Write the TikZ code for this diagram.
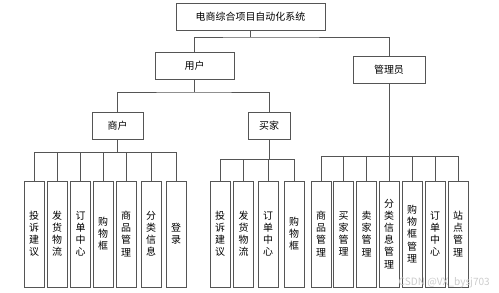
\documentclass[tikz,border=0pt]{standalone}
\usepackage{fontspec}
\setmainfont{Noto Sans CJK SC}
\usepackage{xcolor}
\usetikzlibrary{positioning}
\definecolor{linegray}{RGB}{85, 85, 85}

\begin{document}
\begin{tikzpicture}[x=0.03cm, y=-0.03cm,
  headbox/.style={draw=linegray, line width=0.5pt, fill=white, minimum height=0.81cm, inner sep=0pt, font=\fontsize{8.5}{10.3}\selectfont},
  leafbox/.style={draw=linegray, line width=0.5pt, fill=white, minimum width=0.6cm, minimum height=3.18cm, inner sep=0pt, align=center, font=\fontsize{8.5}{10.3}\selectfont},
  link/.style={draw=linegray, line width=0.5pt},
]
  \useasboundingbox (0,0) rectangle (499,293);

  % Top levels
  \node[headbox, minimum width=4.47cm] (sys) at (250.5,17) {电商综合项目自动化系统};
  \node[headbox, minimum width=2.37cm] (user) at (194.5,65.5) {用户};
  \node[headbox, minimum width=2.16cm] (admin) at (389,69.5) {管理员};
  \node[headbox, minimum width=1.53cm] (merch) at (117.5,125.5) {商户};
  \node[headbox, minimum width=1.26cm] (buyer) at (269,125.5) {买家};

  % Bus points
  \coordinate (topbus) at (250.5,37);
  \coordinate (userbus) at (194.5,92);
  \coordinate (mbus) at (117.5,152);
  \coordinate (bbus) at (269,159);
  \coordinate (abus) at (389,156);

  % Upper connectors
  \draw[link] (sys.south) -- (topbus);
  \draw[link] (user.north) |- (topbus) -| (admin.north);
  \draw[link] (user.south) -- (userbus);
  \draw[link] (merch.north) |- (userbus) -| (buyer.north);

  % Merchant leaves
  \node[leafbox] (m1) at (34,234) {投\\诉\\建\\议};
  \node[leafbox] (m2) at (57,234) {发\\货\\物\\流};
  \node[leafbox] (m3) at (80.5,234) {订\\单\\中\\心};
  \node[leafbox] (m4) at (103,234) {购\\物\\框};
  \node[leafbox] (m5) at (126,234) {商\\品\\管\\理};
  \node[leafbox] (m6) at (151,234) {分\\类\\信\\息};
  \node[leafbox] (m7) at (176,234) {登\\录};
  \draw[link] (merch.south) -- (mbus);
  \foreach \nm in {m1,m2,m3,m4,m5,m6,m7} {
    \draw[link] (\nm.north) |- (mbus);
  }

  % Buyer leaves
  \node[leafbox] (b1) at (220,234) {投\\诉\\建\\议};
  \node[leafbox] (b2) at (243.5,234) {发\\货\\物\\流};
  \node[leafbox] (b3) at (268,234) {订\\单\\中\\心};
  \node[leafbox] (b4) at (294,234) {购\\物\\框};
  \draw[link] (buyer.south) -- (bbus);
  \foreach \nm in {b1,b2,b3,b4} {
    \draw[link] (\nm.north) |- (bbus);
  }

  % Admin leaves
  \node[leafbox] (a1) at (321,234) {商\\品\\管\\理};
  \node[leafbox] (a2) at (343.5,234) {买\\家\\管\\理};
  \node[leafbox] (a3) at (366.5,234) {卖\\家\\管\\理};
  \node[leafbox] (a4) at (389,234) {分\\类\\信\\息\\管\\理};
  \node[leafbox] (a5) at (412,234) {购\\物\\框\\管\\理};
  \node[leafbox] (a6) at (435,234) {订\\单\\中\\心};
  \node[leafbox] (a7) at (458,234) {站\\点\\管\\理};
  \draw[link] (admin.south) -- (abus);
  \foreach \nm in {a1,a2,a3,a4,a5,a6,a7} {
    \draw[link] (\nm.north) |- (abus);
  }

  % Watermark
  \node[font=\fontsize{8.6}{10}\selectfont, text=gray!40, anchor=east, inner sep=0pt] (mark) at (490,283) {CSDN @VX\_bysj703};
\end{tikzpicture}
\end{document}
